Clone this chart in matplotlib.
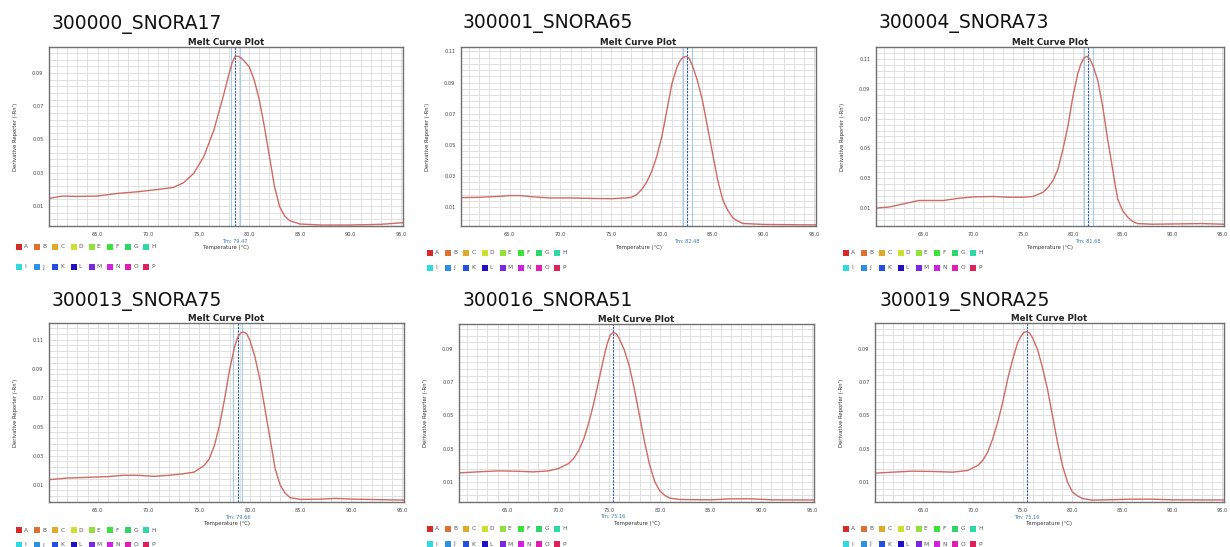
import matplotlib
matplotlib.use("Agg")
import matplotlib.pyplot as plt
from matplotlib.patches import Rectangle
import numpy as np

W, H = 1230, 547

# ---------------- data ----------------
titles = ["300000_SNORA17", "300001_SNORA65", "300004_SNORA73",
          "300013_SNORA75", "300016_SNORA51", "300019_SNORA25"]
tm_labels = ["Tm: 79.47", "Tm: 82.48", "Tm: 81.68",
             "Tm: 79.66", "Tm: 75.16", "Tm: 75.16"]
tm_positions = [78.6, 82.5, 81.55, 78.8, 75.35, 75.4]
x_ticks = [65.0, 70.0, 75.0, 80.0, 85.0, 90.0, 95.0]
y_ticks = [0.01, 0.03, 0.05, 0.07, 0.09, 0.11]

temp_1 = [60.2, 61.5, 63, 65, 67, 69, 71, 72.5, 73.5, 74.5, 75.5, 76.5, 77.5, 78.0, 78.3, 78.6,
          78.9, 79.2, 79.6, 80, 80.5, 81, 81.5, 82, 82.5, 83, 83.5, 84, 85, 87, 90, 93, 95.2]
deriv_1 = [0.0146, 0.016, 0.0158, 0.016, 0.0176, 0.0186, 0.020, 0.0212, 0.024, 0.0296, 0.0396,
           0.0556, 0.0776, 0.0895, 0.0960, 0.1000, 0.1000, 0.0990, 0.0965, 0.0936, 0.0856,
           0.0736, 0.0576, 0.0396, 0.0216, 0.0096, 0.004, 0.0012, -0.0008, -0.0014, -0.0014,
           -0.001, 0.0]

temp_2 = [60.2, 62, 64, 65, 66, 67.5, 69, 71, 73, 75, 76.5, 77, 77.5, 78, 78.5, 79, 79.5, 80,
          80.5, 81, 81.5, 81.8, 82.1, 82.4, 82.7, 83, 83.5, 84, 84.5, 85, 85.5, 86, 86.5, 87,
          87.5, 88, 90, 95.2]
deriv_2 = [0.0162, 0.0164, 0.017, 0.0175, 0.0175, 0.0166, 0.016, 0.016, 0.0157, 0.0155, 0.016,
           0.0164, 0.0181, 0.0213, 0.026, 0.033, 0.0426, 0.0553, 0.0723, 0.0894, 0.100, 0.1040,
           0.1062, 0.1068, 0.1055, 0.1011, 0.0915, 0.0787, 0.0617, 0.0447, 0.0277, 0.0149,
           0.0081, 0.0032, 0.0011, -0.0004, -0.001, -0.0013]

temp_3 = [60.2, 61.5, 63, 64.5, 65, 67, 68.5, 70, 72, 73.5, 75, 76, 77, 77.5, 78, 78.5, 79,
          79.5, 80, 80.5, 80.8, 81.1, 81.4, 81.7, 82, 82.5, 83, 83.5, 84, 84.5, 85, 85.5, 86,
          86.5, 88, 93, 95.2]
deriv_3 = [0.0100, 0.0107, 0.0129, 0.0151, 0.0151, 0.0151, 0.0166, 0.0175, 0.0178, 0.0173,
           0.0173, 0.0178, 0.0206, 0.0239, 0.0284, 0.0361, 0.0494, 0.0649, 0.0848, 0.1003,
           0.1065, 0.1105, 0.1118, 0.1100, 0.1058, 0.0958, 0.0781, 0.056, 0.0361, 0.0162,
           0.0084, 0.004, 0.0011, -0.0004, -0.0008, -0.0004, -0.0008]

temp_4 = [60.2, 62, 64, 66, 67.5, 69, 70.5, 72, 73.5, 74.5, 75.5, 76, 76.5, 77, 77.5, 78, 78.5,
          78.8, 79.1, 79.4, 79.7, 80, 80.5, 81, 81.5, 82, 82.5, 83, 83.5, 84, 85, 87, 88.5, 90,
          95.2]
deriv_4 = [0.0134, 0.0145, 0.015, 0.0155, 0.0164, 0.0164, 0.0157, 0.0164, 0.0175, 0.0186,
           0.0232, 0.0277, 0.0368, 0.0505, 0.0686, 0.0891, 0.105, 0.1115, 0.1145, 0.1152,
           0.1138, 0.1095, 0.0982, 0.0823, 0.0618, 0.0414, 0.0209, 0.0095, 0.0039, 0.0009,
           -0.0002, 0.0, 0.0005, 0.0, -0.0007]

temp_5 = [60.2, 62, 64, 66, 67.5, 69, 70, 71, 71.5, 72, 72.5, 73, 73.5, 74, 74.5, 74.8, 75.1,
          75.4, 75.7, 76, 76.5, 77, 77.5, 78, 78.5, 79, 79.5, 80, 80.5, 81, 82, 85, 87, 89, 91,
          95.2]
deriv_5 = [0.0155, 0.0161, 0.0167, 0.0165, 0.0161, 0.0167, 0.0181, 0.0211, 0.0241, 0.029,
           0.0359, 0.0458, 0.0577, 0.0716, 0.0854, 0.0930, 0.0982, 0.1000, 0.0992, 0.0963,
           0.0894, 0.0795, 0.0656, 0.0498, 0.034, 0.0201, 0.0102, 0.0047, 0.0019, 0.0003,
           -0.0005, -0.0007, -0.0001, -0.0001, -0.0007, -0.0008]

temp_6 = [60.2, 62, 64, 66, 68, 69.5, 70.5, 71, 71.5, 72, 72.5, 73, 73.5, 74, 74.5, 74.8, 75.1,
          75.4, 75.7, 76, 76.5, 77, 77.5, 78, 78.5, 79, 79.5, 80, 80.5, 81, 82, 86, 88, 90, 95.2]
deriv_6 = [0.0153, 0.0159, 0.0165, 0.0163, 0.0159, 0.0169, 0.0199, 0.0229, 0.0279, 0.0358,
           0.0457, 0.0576, 0.0715, 0.0834, 0.0934, 0.0970, 0.0995, 0.1001, 0.0993, 0.0964,
           0.0894, 0.0785, 0.0656, 0.0497, 0.0338, 0.0199, 0.010, 0.004, 0.0017, 0.0001,
           -0.0009, -0.0003, -0.0003, -0.0007, -0.0008]

ylims = [(-0.002, 0.1056), (-0.0015, 0.1128), (-0.001, 0.118),
         (-0.0009, 0.1214), (-0.0005, 0.105), (-0.0009, 0.1053)]

well_letters = list("ABCDEFGHIJKLMNOP")
well_colors = ["#d42a2a", "#e07030", "#e0aa28", "#cde030", "#92e03a", "#3ee03e", "#2ed66a",
               "#2ed8a6", "#30d8e0", "#3090e0", "#2450e0", "#2010c0", "#7a28e0", "#d020e0",
               "#e020b0", "#e0205a"]

temps = [temp_1, temp_2, temp_3, temp_4, temp_5, temp_6]
derivs = [deriv_1, deriv_2, deriv_3, deriv_4, deriv_5, deriv_6]

# ---------------- layout (pixels) ----------------
# (left, right, top, bottom)
boxes = [(49, 403, 47, 226), (461, 816, 47, 226), (876, 1224, 47, 226),
         (49, 404, 323, 502), (459, 814, 324, 502), (875, 1224, 323, 502)]
title_pos = [(52, 29), (463, 28), (879, 28), (52, 306), (463, 306), (880, 306)]
legend_x = [16, 427, 843, 16, 427, 843]
legend_y = [(247, 267), (253, 268), (253, 268), (530, 545), (529, 544), (529, 544)]

fig = plt.figure(figsize=(W / 100, H / 100), dpi=100)
fig.patch.set_facecolor("white")


def fx(px):
    return px / W


def fy(py):
    return 1 - py / H


curve_color = "#cf6a64"
grid_color = "#dcdcdc"
tm_dark = "#2a5a9a"
tm_light = "#a6cbe8"

for i in range(6):
    l, r, t, b = boxes[i]
    ax = fig.add_axes([fx(l), fy(b), (r - l) / W, (b - t) / H])
    ax.set_xlim(60.2, 95.2)
    ax.set_ylim(*ylims[i])
    ax.set_xticks(x_ticks)
    ax.set_xticklabels([f"{v:.1f}" for v in x_ticks])
    yt = [v for v in y_ticks if v < ylims[i][1]]
    ax.set_yticks(yt)
    ax.set_yticklabels([f"{v:.2f}" for v in yt])
    ax.set_xticks(np.arange(61, 96, 1.0), minor=True)
    ax.set_yticks(np.arange(-0.002, ylims[i][1], 0.004), minor=True)
    ax.grid(True, which="both", color=grid_color, linewidth=0.6)
    ax.set_axisbelow(True)
    ax.tick_params(which="both", length=0, labelsize=3.6, labelcolor="#444444", pad=4)
    for s in ax.spines.values():
        s.set_color("#707070")
        s.set_linewidth(1.0)

    tm = tm_positions[i]
    if i < 4:
        ax.axvline(tm - 0.45, color=tm_light, linewidth=0.8)
        ax.axvline(tm + 0.45, color=tm_light, linewidth=0.8)
    ax.axvline(tm, color=tm_dark, linewidth=0.8, linestyle=(0, (2, 1)))
    ax.plot(temps[i], derivs[i], color=curve_color, linewidth=1.0,
            solid_joinstyle="round", antialiased=True)

    ax.set_ylabel("Derivative Reporter (-Rn')", fontsize=3.8, color="#333333", labelpad=10)
    ax.set_xlabel("Temperature (°C)", fontsize=3.8, color="#333333", labelpad=6)
    ax.text(tm, -0.07, tm_labels[i], transform=ax.get_xaxis_transform(),
            ha="center", va="top", fontsize=3.6, color="#3a78b8")
    ax.set_title("Melt Curve Plot", fontsize=6.3, fontweight="bold", color="#222222", pad=1.5)

    # sample title
    tx, ty = title_pos[i]
    fig.text(fx(tx), fy(ty), titles[i], fontsize=13.5, color="#111111",
             ha="left", va="baseline")

    # well legend
    lx = legend_x[i]
    for row in range(2):
        yy = legend_y[i][row]
        for k in range(8):
            idx = row * 8 + k
            x0 = lx + k * 18.2
            fig.add_artist(Rectangle((fx(x0), fy(yy + 3)), 6 / W, 6 / H,
                                     transform=fig.transFigure,
                                     facecolor=well_colors[idx], edgecolor="none"))
            fig.text(fx(x0 + 8), fy(yy), well_letters[idx], fontsize=4.2,
                     color="#555555", ha="left", va="center")

fig.savefig("out.png", dpi=100, facecolor="white")
